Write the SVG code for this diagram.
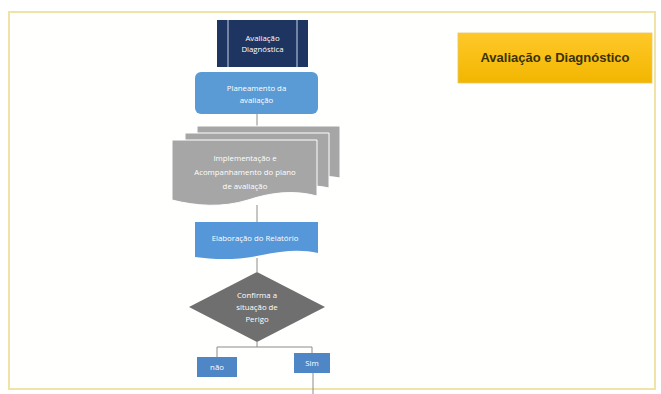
<svg xmlns="http://www.w3.org/2000/svg" width="661" height="394" viewBox="0 0 661 394">
<defs>
<style>
.t{font-family:"Open Sans","Liberation Sans",sans-serif;font-size:7.8px;fill:#ffffff;text-anchor:middle}
.ln{stroke:#8c8c8c;stroke-width:1;fill:none}
.doc{fill:#a6a6a6;stroke:#ffffff;stroke-width:1}
</style>
<linearGradient id="gold" x1="0" y1="0" x2="0" y2="1">
<stop offset="0" stop-color="#ffc829"/>
<stop offset="1" stop-color="#f2b600"/>
</linearGradient>
</defs>
<rect width="661" height="394" fill="#ffffff"/>
<rect x="9" y="12" width="646" height="377" fill="#fffffd" stroke="#efe3a6" stroke-width="2"/>
<g id="connectors">
<path class="ln" d="M257,114 V127"/>
<path class="ln" d="M257,205 V222"/>
<path class="ln" d="M257,258 V272"/>
<path class="ln" d="M257,342 V347 M217,347 H312 M217,347 V357 M312,347 V353"/>
<path class="ln" d="M313,373 V394"/>
</g>
<g id="n1">
<rect x="217" y="20" width="91" height="47" fill="#1e3461"/>
<path d="M228,20 V67 M297,20 V67" stroke="#c9d3e6" stroke-width="1"/>
<text class="t" x="262.5" y="41">Avaliação</text>
<text class="t" x="262.5" y="52">Diagnóstica</text>
</g>
<g id="n2">
<rect x="195" y="72" width="123" height="42" rx="6" fill="#5b9bd5"/>
<text class="t" x="256.5" y="91">Planeamento da</text>
<text class="t" x="256.5" y="103">avaliação</text>
</g>
<g id="n3">
<path class="doc" d="M197,126 H340 V178 C325,175 310,177 290,182 C260,190 225,190 197,184 Z"/>
<path class="doc" d="M185,133 H329 V188 C312,184 295,186 275,191 C245,199 212,198 185,192 Z"/>
<path class="doc" d="M172,140 H317 V196 C295,190 272,192 248,200 C222,208 196,206 172,200 Z"/>
<text class="t" x="245" y="161">Implementação e</text>
<text class="t" x="245" y="175">Acompanhamento do plano</text>
<text class="t" x="245" y="189">de avaliação</text>
</g>
<g id="n4">
<path d="M195,222 H318 V253 C300,249 282,251 262,255 C240,260 216,260 195,257 Z" fill="#5597d8"/>
<text class="t" x="255" y="241">Elaboração do Relatório</text>
</g>
<g id="n5">
<polygon points="257,272 325,307 257,342 189,307" fill="#6f6f6f"/>
<text class="t" x="257" y="298">Confirma a</text>
<text class="t" x="257" y="310">situação de</text>
<text class="t" x="257" y="322">Perigo</text>
</g>
<g id="n6">
<rect x="197" y="357" width="40" height="20" fill="#4f86c6"/>
<text class="t" x="217" y="370">não</text>
</g>
<g id="n7">
<rect x="294" y="353" width="36" height="20" fill="#4f86c6"/>
<text class="t" x="312" y="366">Sim</text>
</g>
<g id="n8">
<rect x="458" y="33" width="194" height="50" fill="url(#gold)" stroke="#e6c766" stroke-width="0.8"/>
<text x="555" y="62" text-anchor="middle" font-family="'Liberation Sans','Arial',sans-serif" font-weight="bold" font-size="13" fill="#3a3207">Avaliação e Diagnóstico</text>
</g>
</svg>
